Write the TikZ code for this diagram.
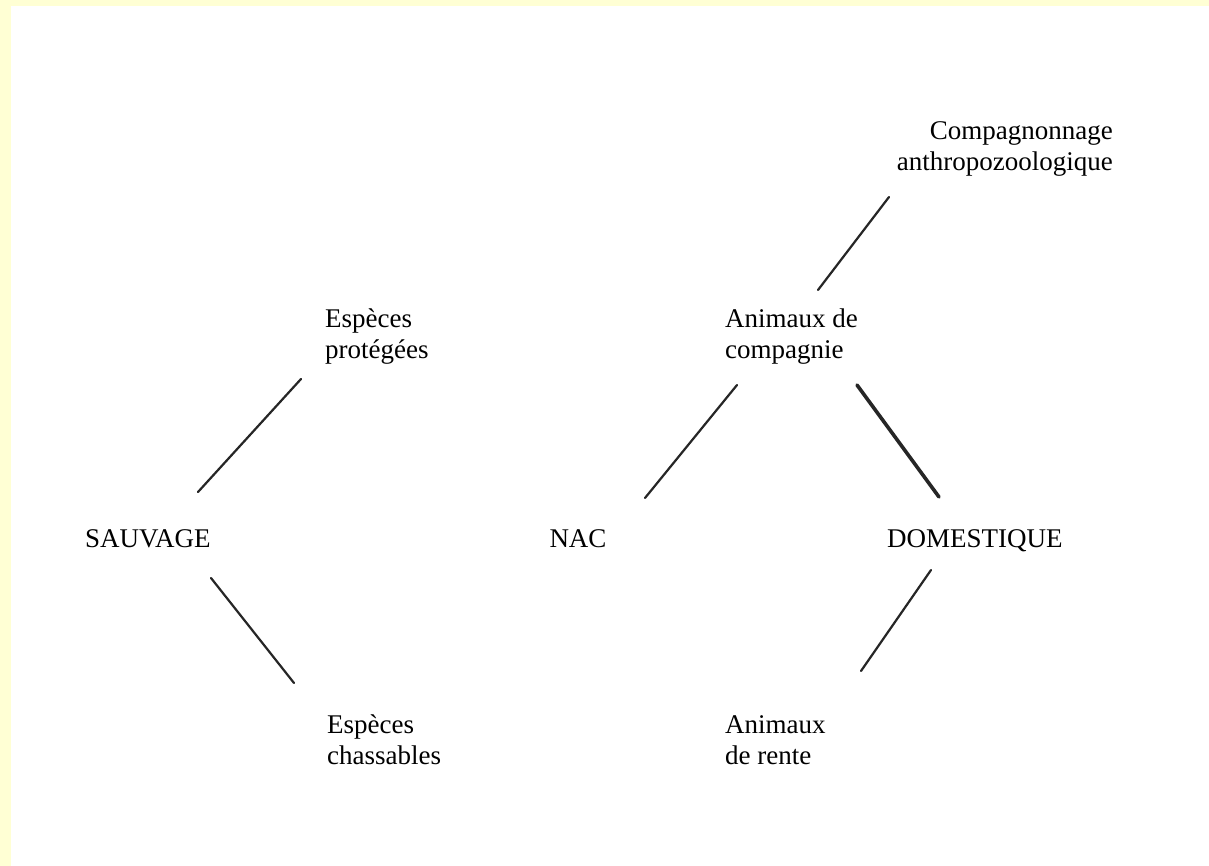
\documentclass[tikz,border=0pt]{standalone}
\usepackage{fontspec}
\setmainfont{Liberation Serif}
\usepackage{xcolor}
\usetikzlibrary{positioning}
\definecolor{paleyellow}{RGB}{255,255,212}

\begin{document}
\begin{tikzpicture}[
  x=1pt, y=-1pt,
  every node/.style={inner sep=0pt, font=\fontsize{27}{31}\selectfont, text=black},
  term/.style={anchor=base west, align=left},
  link/.style={line width=2.2pt, black!85, line cap=round},
  heavylink/.style={link, line width=3.6pt},
]
  % frame
  \useasboundingbox (0,0) rectangle (1209,866);
  \fill[paleyellow] (0,0) rectangle (1209,866);
  \fill[white] (11,6) rectangle (1209,866);

  % wild side
  \node[term] (prot) at (325,358) {Espèces\\protégées};
  \node[term] (sauv) at (85,547) {SAUVAGE};
  \node[term] (chass) at (327,764) {Espèces\\chassables};

  % domestic side
  \node[anchor=base east, align=right] (comp) at (1113,171)
    {Compagnonnage\\anthropozoologique};
  \node[term] (anim) at (725,358) {Animaux de\\compagnie};
  \node[anchor=base] (nac) at (578,547) {NAC};
  \node[term] (dom) at (887,547) {DOMESTIQUE};
  \node[term] (rente) at (725,764) {Animaux\\de rente};

  % connectors
  \draw[link] ([shift={(-24,21)}]prot.base west) -- ([shift={(113,-55)}]sauv.base west);
  \draw[link] ([shift={(126,31)}]sauv.base west) -- ([shift={(-33,-81)}]chass.base west);
  \draw[link] ([shift={(-224,26)}]comp.base east) -- ([shift={(93,-68)}]anim.base west);
  \draw[link] ([shift={(12,27)}]anim.base west) -- ([shift={(67,-49)}]nac.base);
  \draw[heavylink] ([shift={(132,27)}]anim.base west) -- ([shift={(52,-50)}]dom.base west);
  \draw[link] ([shift={(44,23)}]dom.base west) -- ([shift={(136,-93)}]rente.base west);

\end{tikzpicture}
\end{document}
